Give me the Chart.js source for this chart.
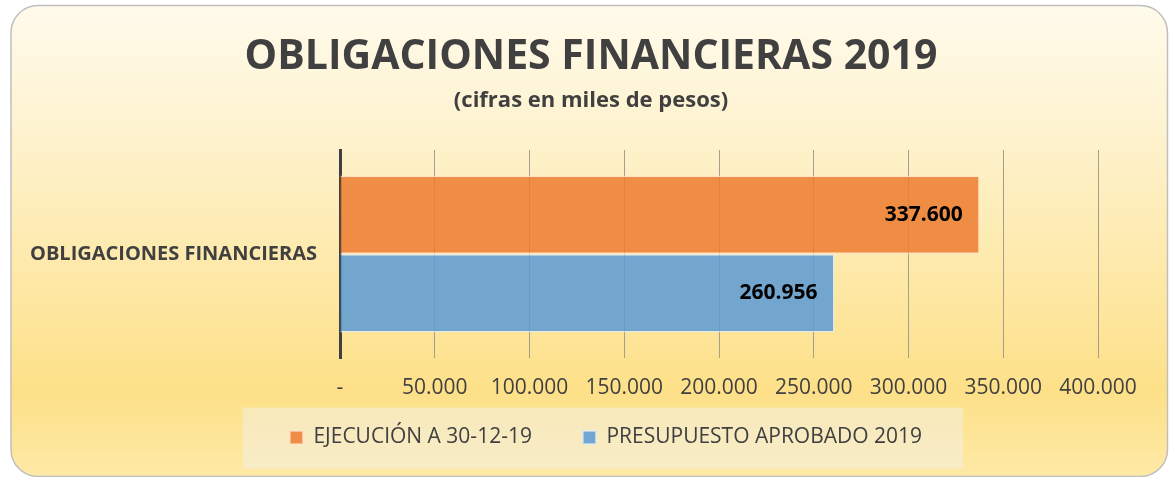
<!DOCTYPE html>
<html>
<head>
<meta charset="utf-8">
<script src="https://cdn.jsdelivr.net/npm/chart.js@4"></script>
<style>
  html, body { margin: 0; padding: 0; background: #ffffff; }
</style>
</head>
<body>
<canvas id="chart" width="1169" height="477"></canvas>
<script>
const categories = ['OBLIGACIONES FINANCIERAS'];
const seriesNames = ['EJECUCIÓN A 30-12-19', 'PRESUPUESTO APROBADO 2019'];
const ejecucion = [337600];
const presupuesto = [260956];
const tickValues = [0, 50000, 100000, 150000, 200000, 250000, 300000, 350000, 400000];

const FONT = '"Open Sans"';
const textColor = '#404040';

const fmt = v => v === 0 ? '-' : v.toLocaleString('de-DE');

const backdrop = {
  id: 'backdrop',
  afterLayout(chart) {
    // the original centres the titles and legend off the plot, nudge them across
    chart.boxes.forEach(b => {
      if (b === chart.legend) {
        b.left += 52; b.right += 52;
        b.top -= 25; b.bottom -= 25;
      } else if (!b.axis && b.options && b.options.text !== undefined) {
        b.left += 37; b.right += 37;
      }
    });
  },
  beforeDraw(chart) {
    const ctx = chart.ctx;
    const w = chart.width, h = chart.height;
    ctx.save();
    const g = ctx.createLinearGradient(0, 0, 0, h);
    g.addColorStop(0, '#fffbed');
    g.addColorStop(0.3, '#fef2cc');
    g.addColorStop(0.82, '#fde088');
    g.addColorStop(1, '#fee9a6');
    ctx.beginPath();
    ctx.roundRect(11, 5.5, w - 12.5, h - 6, 27);
    ctx.fillStyle = g;
    ctx.fill();
    ctx.lineWidth = 1.5;
    ctx.strokeStyle = '#bfbfbf';
    ctx.stroke();
    // legend panel
    const hb = chart.legend.legendHitBoxes;
    if (hb && hb.length) {
      const last = hb[hb.length - 1];
      const x0 = hb[0].left - 47;
      const x1 = last.left + last.width + 41;
      const y0 = hb[0].top - 19.5;
      ctx.fillStyle = 'rgba(242,242,242,0.45)';
      ctx.fillRect(x0, y0, x1 - x0, 61);
    }
    ctx.restore();
  }
};

const barValues = {
  id: 'barValues',
  afterDatasetsDraw(chart) {
    const ctx = chart.ctx;
    ctx.save();
    ctx.font = 'bold 21px ' + FONT;
    ctx.fillStyle = '#000000';
    ctx.textAlign = 'right';
    ctx.textBaseline = 'middle';
    chart.data.datasets.forEach((ds, i) => {
      chart.getDatasetMeta(i).data.forEach((bar, j) => {
        ctx.fillText(fmt(ds.data[j]), bar.x - 17, bar.y);
      });
    });
    ctx.restore();
  }
};

new Chart(document.getElementById('chart'), {
  type: 'bar',
  data: {
    labels: categories,
    datasets: [{
      label: seriesNames[0],
      data: ejecucion,
      backgroundColor: 'rgba(237,125,49,0.86)',
      borderColor: 'rgba(255,225,200,0.8)',
      borderWidth: 1.5,
      categoryPercentage: 0.755,
      barPercentage: 1
    }, {
      label: seriesNames[1],
      data: presupuesto,
      backgroundColor: 'rgba(91,155,213,0.86)',
      borderColor: 'rgba(225,235,245,0.8)',
      borderWidth: 1.5,
      categoryPercentage: 0.755,
      barPercentage: 1
    }]
  },
  options: {
    indexAxis: 'y',
    responsive: false,
    animation: false,
    layout: { padding: { top: 0, left: 10, right: 71, bottom: -6 } },
    scales: {
      x: {
        min: 0,
        max: 400000,
        afterBuildTicks: (s) => { s.ticks = tickValues.map(v => ({ value: v })); },
        afterFit: (s) => { s.height = 43; },
        ticks: {
          color: textColor,
          padding: 17.4,
          maxRotation: 0,
          autoSkip: false,
          font: { family: FONT, size: 21 },
          callback: (v) => fmt(v)
        },
        grid: { color: '#a39f8a', lineWidth: 1, drawTicks: false },
        border: { display: false }
      },
      y: {
        afterFit: (s) => { s.width = 330; },
        ticks: {
          color: textColor,
          padding: 23,
          font: { family: FONT, size: 20, weight: 'bold' }
        },
        grid: { display: false, drawTicks: false },
        border: { display: true, color: '#404040', width: 3 }
      }
    },
    plugins: {
      title: {
        display: true,
        text: 'OBLIGACIONES FINANCIERAS 2019',
        color: textColor,
        font: { family: FONT, size: 41, weight: 'bold', lineHeight: 1.2 },
        padding: { top: 32.4, bottom: 6.2 }
      },
      subtitle: {
        display: true,
        text: '(cifras en miles de pesos)',
        color: textColor,
        font: { family: FONT, size: 22, weight: 'bold', lineHeight: 1.2 },
        padding: { top: 0, bottom: 35.8 }
      },
      legend: {
        position: 'bottom',
        labels: {
          color: textColor,
          boxWidth: 13,
          boxHeight: 13,
          padding: 51,
          font: { family: FONT, size: 21 }
        }
      },
      tooltip: { enabled: false }
    }
  },
  plugins: [backdrop, barValues]
});
</script>
</body>
</html>
